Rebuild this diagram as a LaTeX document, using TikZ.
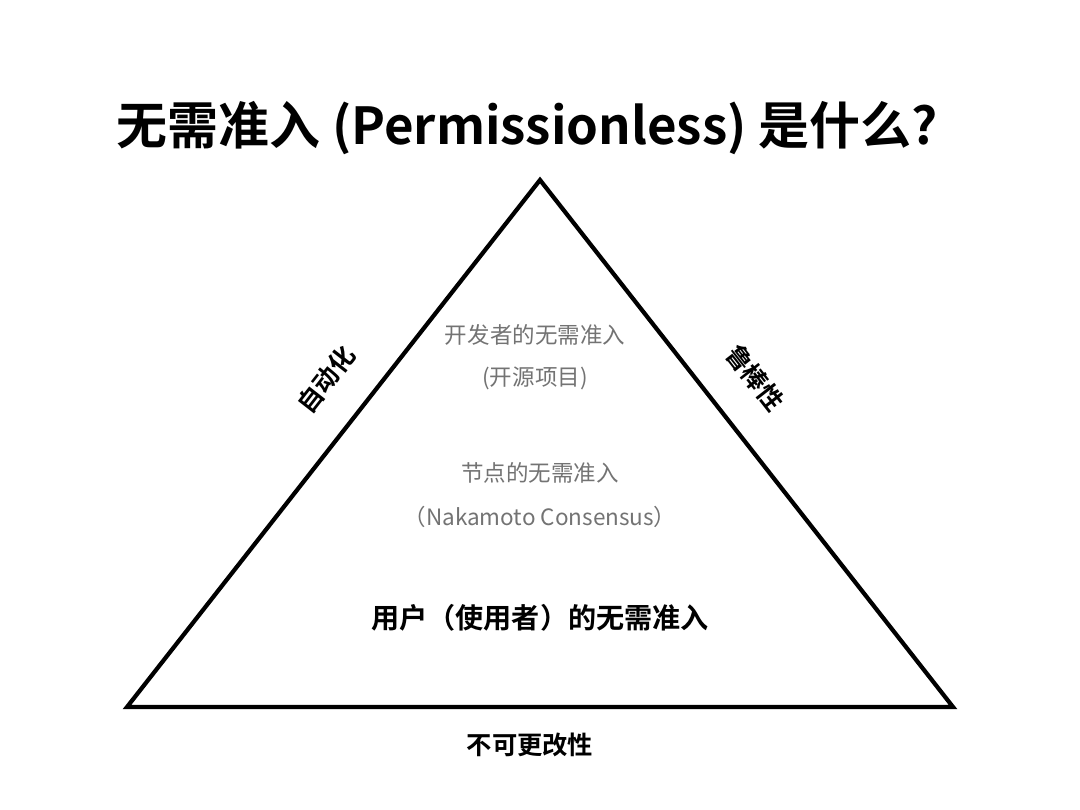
\documentclass[tikz,border=0pt]{standalone}
\usepackage{fontspec}
\setmainfont{Noto Sans CJK SC}
\newfontfamily\cjkbold{Noto Sans CJK SC Bold}
\usetikzlibrary{positioning}
\begin{document}
\begin{tikzpicture}[x=0.01cm, y=-0.01cm,
    lbl/.style={font=\cjkbold\fontsize{7.2pt}{8pt}\selectfont, text=black, inner sep=1pt},
    gr/.style={font=\fontsize{6.4pt}{7.5pt}\selectfont, text=black!55},
]
\useasboundingbox (0,0) rectangle (1080,810);

% === Title ===
\node[font=\cjkbold\fontsize{14.5pt}{16pt}\selectfont] (title) at (527,128) {无需准入 (Permissionless) 是什么?};

% === Triangle ===
\coordinate (top) at (540,180);
\coordinate (bl) at (127,707);
\coordinate (br) at (953,707);
\draw[line width=1.2pt, line join=miter] (top) -- (br) -- (bl) -- cycle;

% --- Levels ---
\node[gr] (dev) at (535,335) {开发者的无需准入};
\node[gr] (devsub) at (535,378) {(开源项目)};
\node[gr] (node) at (540,473) {节点的无需准入};
\node[gr] (nodesub) at (540,517) {（Nakamoto Consensus）};
\node[lbl, font=\cjkbold\fontsize{8pt}{9pt}\selectfont] (user) at (540,618) {用户（使用者）的无需准入};

% --- Sides ---
\node[lbl, rotate=52] (auto) at (326,380) {自动化};
\node[lbl, rotate=-52] (robust) at (755,378) {鲁棒性};
\node[lbl] (immut) at (530,745) {不可更改性};

\end{tikzpicture}
\end{document}
